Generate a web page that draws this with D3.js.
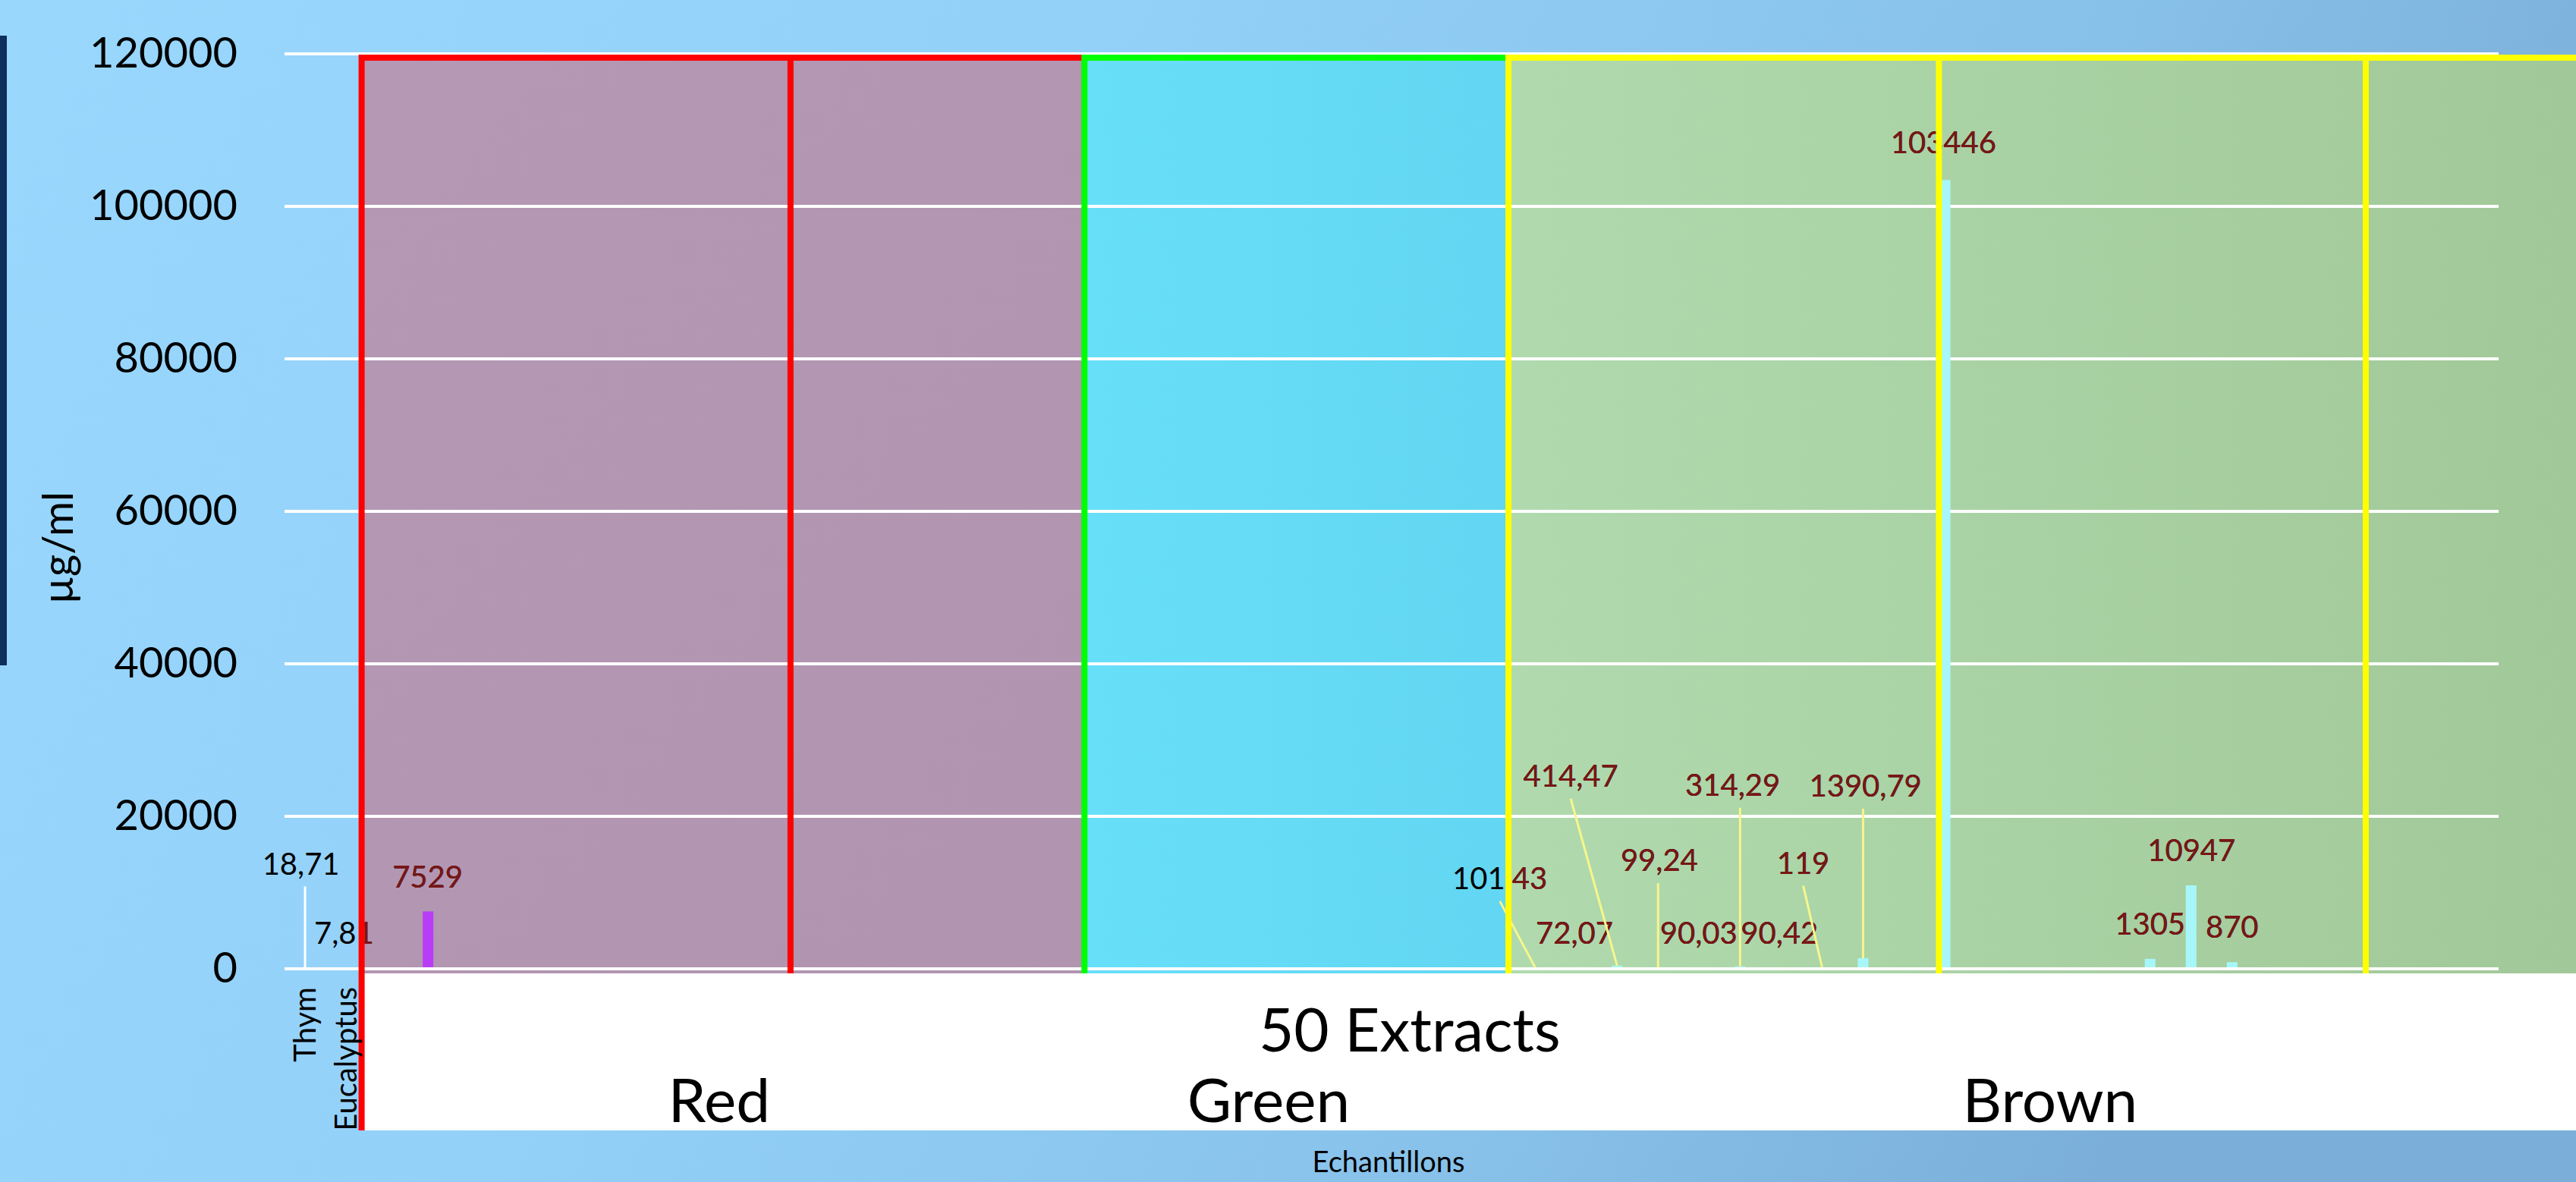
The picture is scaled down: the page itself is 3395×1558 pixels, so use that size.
<!DOCTYPE html>
<html>
<head>
<meta charset="utf-8">
<script src="https://cdn.jsdelivr.net/npm/d3@7"></script>
<style>
  html, body { margin: 0; padding: 0; background: #8fcaf3; }
  svg { display: block; font-family: Lato, "Open Sans", sans-serif; }
</style>
</head>
<body>
<svg id="chart" width="3395" height="1558"></svg>
<script>
// x categories: the two reference oils, then the extracts (one slot each)
var refNames = ["Thym", "Eucalyptus"];
var extractNames = d3.range(1, 53).map(function(i) { return "E" + i; });
var categories = refNames.concat(extractNames);

// measured concentrations (µg/ml), only the samples that have a value
var barCategories = ["Thym", "Eucalyptus", "E2", "E29", "E30", "E31", "E32", "E33",
  "E34", "E35", "E36", "E37", "E39", "E44", "E45", "E46"];
var barValues = [18.71, 7.81, 7529, 101.43, 72.07, 414.47, 99.24, 90.03,
  314.29, 90.42, 119, 1390.79, 103446, 1305, 10947, 870];

var yTicks = [0, 20000, 40000, 60000, 80000, 100000, 120000];

// colour groups of extracts, spans given in category slots
var groupNames = ["Red", "Green", "Brown"];
var groupStart = [1.88, 19.51, 29.85];
var groupEnd = [19.51, 29.85, 56];
var groupDividers = [[12.34], [], [40.35, 50.76]];

// where the data labels sit (slot, µg/ml), same order as barCategories
var labelSlot = [0.40, 1.45, 3.49, 29.64, 31.46, 31.37, 33.53, 34.49,
  35.32, 36.46, 37.04, 38.56, 40.46, 45.50, 46.51, 47.50];
var labelValue = [13800, 4760, 12070, 11850, 4760, 25300, 14220, 4760,
  24100, 4760, 13900, 24000, 108360, 5900, 15600, 5500];

var W = 3395, H = 1558;
var plotLeft = 375, plotRight = 3293, plotTop = 71, plotBottom = 1277;
var boxTopValue = 119500;
var bandBottom = 1490;

var strokeColor = { Red: "#ff0000", Green: "#00ff00", Brown: "#ffff00" };
var barColor = { Red: "#b93df7", Green: "#a7f7fa", Brown: "#a7f7fa" };
var darkRed = "#7a1616";

var svg = d3.select("#chart");
var defs = svg.append("defs");

function addGradient(id, x1, y1, x2, y2, stops) {
  var g = defs.append("linearGradient").attr("id", id)
    .attr("x1", x1).attr("y1", y1).attr("x2", x2).attr("y2", y2);
  stops.forEach(function(s) {
    g.append("stop").attr("offset", s[0]).attr("stop-color", s[1]);
  });
}
addGradient("bg", 0, 0, 1, 0.25, [[0, "#99d7fd"], [0.4, "#93d1f9"], [0.75, "#88c2ea"], [1, "#7bafd9"]]);
addGradient("fillRed", 0, 0, 1, 1, [[0, "#b598b4"], [1, "#b194b0"]]);
addGradient("fillGreen", 0, 0, 1, 0, [[0, "#68dff9"], [1, "#62d6f2"]]);
addGradient("fillBrown", 0, 0, 1, 0, [[0, "#b0daae"], [1, "#a1c898"]]);

svg.append("rect").attr("width", W).attr("height", H).attr("fill", "url(#bg)");

// dark accent bar on the left edge
svg.append("rect")
  .attr("x", 0).attr("y", 47).attr("width", 9).attr("height", 830)
  .attr("fill", "#0e2e5b");

var x = d3.scaleBand()
  .domain(categories)
  .range([plotLeft, plotRight])
  .paddingInner(0.74)
  .paddingOuter(0.37);
var slot = d3.scaleLinear().domain([0, categories.length]).range([plotLeft, plotRight]);
var y = d3.scaleLinear().domain([0, 120000]).range([plotBottom, plotTop]);

var boxTop = y(boxTopValue);
var boxBottom = plotBottom + 6;

function groupOf(s) {
  for (var i = 0; i < groupNames.length; i++) {
    if (s >= groupStart[i] && s < groupEnd[i]) return groupNames[i];
  }
  return null;
}

// group fills
var fills = ["url(#fillRed)", "url(#fillGreen)", "url(#fillBrown)"];
svg.append("g").selectAll("rect")
  .data(groupNames)
  .enter().append("rect")
  .attr("x", function(d, i) { return slot(groupStart[i]); })
  .attr("y", boxTop)
  .attr("width", function(d, i) { return slot(groupEnd[i]) - slot(groupStart[i]); })
  .attr("height", boxBottom - boxTop)
  .attr("fill", function(d, i) { return fills[i]; });

// white band under the plot holding the group names
svg.append("rect")
  .attr("x", slot(groupStart[0])).attr("y", boxBottom)
  .attr("width", W - slot(groupStart[0])).attr("height", bandBottom - boxBottom)
  .attr("fill", "#ffffff");

// horizontal gridlines
svg.append("g").selectAll("line")
  .data(yTicks)
  .enter().append("line")
  .attr("x1", plotLeft).attr("x2", plotRight)
  .attr("y1", function(d) { return y(d); })
  .attr("y2", function(d) { return y(d); })
  .attr("stroke", "#ffffff")
  .attr("stroke-width", 4);

// bars
var bars = barCategories.map(function(c, i) {
  var cx = x(c) + x.bandwidth() / 2;
  return { cat: c, value: barValues[i], cx: cx, group: groupOf(slot.invert(cx)),
    lx: slot(labelSlot[i]), ly: y(labelValue[i]) };
});

svg.append("g").selectAll("rect")
  .data(bars)
  .enter().append("rect")
  .attr("x", function(d) { return x(d.cat); })
  .attr("y", function(d) { return y(d.value); })
  .attr("width", x.bandwidth())
  .attr("height", function(d) { return Math.max(0, plotBottom - 2 - y(d.value)); })
  .attr("fill", function(d) { return barColor[d.group] || "#a7f7fa"; });

// data labels: black everywhere, dark red where they fall in the red / brown boxes
var loc = d3.formatLocale({ decimal: ",", thousands: " ", grouping: [3], currency: ["", " €"] });
var fmt2 = loc.format(".2f"), fmt0 = loc.format("d");
function labelText(v) { return Number.isInteger(v) ? fmt0(v) : fmt2(v); }

var clip = defs.append("clipPath").attr("id", "redText");
[0, 2].forEach(function(i) {
  clip.append("rect")
    .attr("x", slot(groupStart[i])).attr("y", 0)
    .attr("width", slot(groupEnd[i]) - slot(groupStart[i])).attr("height", H);
});

function drawLabels(g, color) {
  return g.selectAll("text")
    .data(bars)
    .enter().append("text")
    .attr("x", function(d) { return d.lx; })
    .attr("y", function(d) { return d.ly; })
    .attr("dy", "0.36em")
    .attr("text-anchor", "middle")
    .attr("font-size", 40)
    .attr("fill", color)
    .text(function(d) { return labelText(d.value); });
}
var blackLabels = drawLabels(svg.append("g"), "#000000");
drawLabels(svg.append("g").attr("clip-path", "url(#redText)"), darkRed);

// leader lines for labels moved away from their bar
blackLabels.each(function(d) { d.halfW = this.getComputedTextLength() / 2; });
var leaders = bars.filter(function(d) { return y(d.value) - d.ly > 80; });
svg.append("g").selectAll("line")
  .data(leaders)
  .enter().append("line")
  .attr("x1", function(d) { return Math.abs(d.cx - d.lx) < d.halfW * 0.5 ? d.cx : d.lx; })
  .attr("y1", function(d) { return d.ly + 30; })
  .attr("x2", function(d) { return d.cx; })
  .attr("y2", function(d) { return Math.min(y(d.value), plotBottom - 2); })
  .attr("stroke", function(d) { return d.group === "Brown" ? "#f6f68c" : "#ffffff"; })
  .attr("stroke-width", 3);

// box outlines
var borders = svg.append("g").attr("fill", "none").attr("stroke-width", 8);
groupNames.forEach(function(name, i) {
  var x0 = slot(groupStart[i]), x1 = Math.min(slot(groupEnd[i]), W + 10);
  var yb = i === 0 ? bandBottom : boxBottom;
  borders.append("path")
    .attr("d", "M" + x0 + "," + yb + "V" + boxTop + "H" + x1)
    .attr("stroke", strokeColor[name]);
  groupDividers[i].forEach(function(s) {
    borders.append("line")
      .attr("x1", slot(s)).attr("x2", slot(s))
      .attr("y1", boxTop).attr("y2", boxBottom)
      .attr("stroke", strokeColor[name]);
  });
});

// y axis
var yAxis = svg.append("g")
  .attr("transform", "translate(" + plotLeft + ",0)")
  .call(d3.axisLeft(y).tickValues(yTicks).tickSize(0).tickPadding(62).tickFormat(d3.format("d")));
yAxis.select(".domain").remove();
yAxis.selectAll("text")
  .attr("font-family", "Lato, 'Open Sans', sans-serif")
  .attr("font-size", 56)
  .attr("fill", "#000000");

// x axis: only the reference oils carry a tick label
var xAxis = svg.append("g")
  .attr("transform", "translate(0," + plotBottom + ")")
  .call(d3.axisBottom(x).tickSize(0)
    .tickFormat(function(d) { return refNames.indexOf(d) >= 0 ? d : ""; }));
xAxis.select(".domain").remove();
xAxis.selectAll("text")
  .attr("font-family", "Lato, 'Open Sans', sans-serif")
  .attr("font-size", 40)
  .attr("fill", "#000000")
  .attr("transform", "rotate(-90)")
  .attr("text-anchor", "end")
  .attr("x", -24)
  .attr("y", 0)
  .attr("dy", "0.36em");

// group names in the white band
var groupLabelSlot = [10.6, 24.0, 43.06];
svg.append("g").selectAll("text")
  .data(groupNames)
  .enter().append("text")
  .attr("x", function(d, i) { return slot(groupLabelSlot[i]); })
  .attr("y", 1479)
  .attr("text-anchor", "middle")
  .attr("font-size", 80)
  .text(function(d) { return d; });

svg.append("text")
  .attr("x", slot(27.44)).attr("y", 1386)
  .attr("text-anchor", "middle")
  .attr("font-size", 80)
  .text("50 Extracts");

// axis titles
svg.append("text")
  .attr("transform", "translate(76,722) rotate(-90)")
  .attr("text-anchor", "middle")
  .attr("dy", "0.36em")
  .attr("font-size", 56)
  .text("µg/ml");

svg.append("text")
  .attr("x", 1830).attr("y", 1545)
  .attr("text-anchor", "middle")
  .attr("font-size", 38)
  .text("Echantillons");
</script>
</body>
</html>
